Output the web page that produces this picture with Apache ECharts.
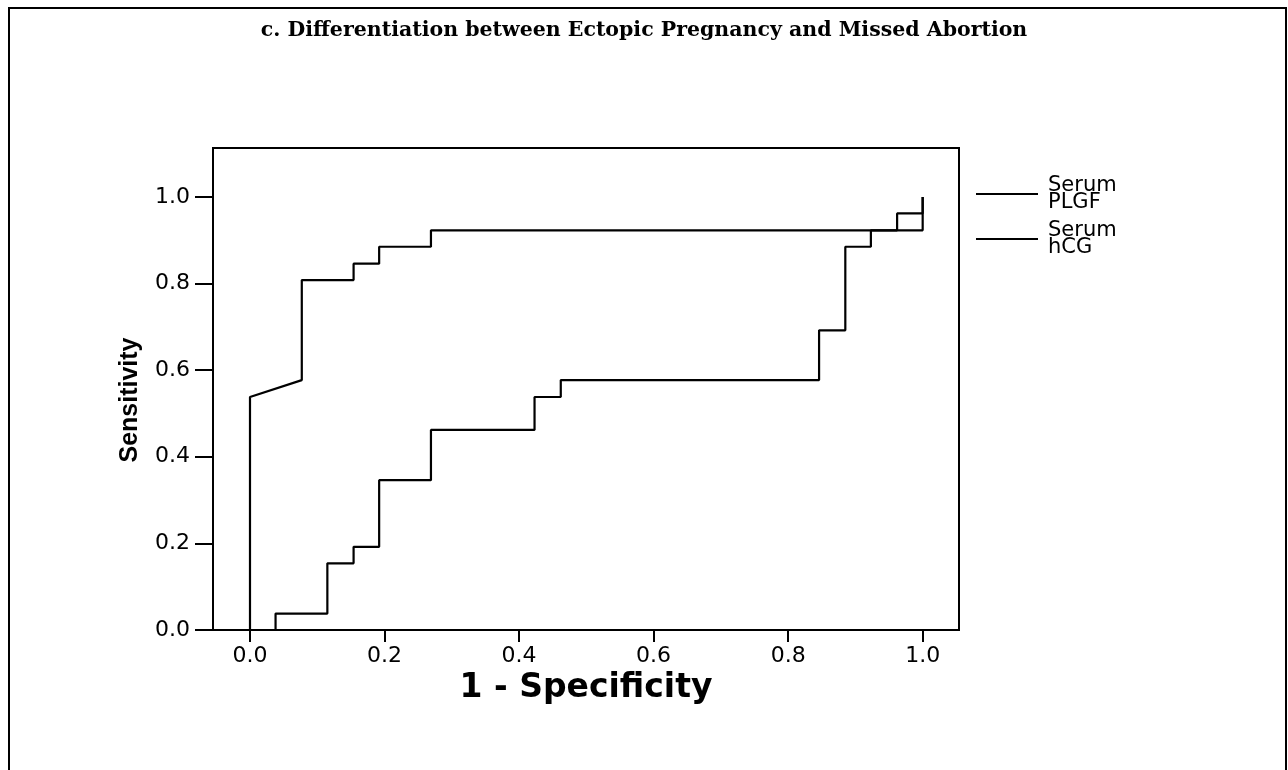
<!DOCTYPE html>
<html>
<head>
<meta charset="utf-8">
<script src="https://cdn.jsdelivr.net/npm/echarts@6/dist/echarts.min.js"></script>
<style>
html,body{margin:0;padding:0;background:#fff;}
#chart{width:1288px;height:770px;}
</style>
</head>
<body>
<div id="chart"></div>
<script>
const titleText = 'c. Differentiation between Ectopic Pregnancy and Missed Abortion';
const seriesNames = ['Serum PLGF', 'Serum hCG'];
const tickValues = [0, 0.2, 0.4, 0.6, 0.8, 1.0];

const plgfX = [0, 0, 0.077, 0.077, 0.154, 0.154, 0.192, 0.192, 0.269, 0.269, 0.962, 0.962, 1, 1];
const plgfY = [0, 0.538, 0.577, 0.808, 0.808, 0.846, 0.846, 0.885, 0.885, 0.923, 0.923, 0.962, 0.962, 1];

const hcgX = [0, 0.038, 0.038, 0.115, 0.115, 0.154, 0.154, 0.192, 0.192, 0.269, 0.269, 0.423, 0.423, 0.462, 0.462, 0.846, 0.846, 0.885, 0.885, 0.923, 0.923, 1, 1];
const hcgY = [0, 0, 0.038, 0.038, 0.154, 0.154, 0.192, 0.192, 0.346, 0.346, 0.462, 0.462, 0.538, 0.538, 0.577, 0.577, 0.692, 0.692, 0.885, 0.885, 0.923, 0.923, 1];

const toPairs = (xs, ys) => xs.map((x, i) => [x, ys[i]]);

const chart = echarts.init(document.getElementById('chart'));
const lineSeries = (name, xs, ys) => ({
  name: name,
  type: 'line',
  data: toPairs(xs, ys),
  showSymbol: false,
  symbol: 'none',
  lineStyle: {color: '#000', width: 2.2},
  itemStyle: {color: '#000'},
  animation: false
});

chart.setOption({
  backgroundColor: '#fff',
  animation: false,
  graphic: [{
    type: 'rect',
    shape: {x: 9, y: 8, width: 1277, height: 820},
    style: {fill: 'none', stroke: '#000', lineWidth: 2},
    silent: true
  }],
  title: {
    text: titleText,
    left: 'center',
    top: 15,
    textStyle: {fontFamily: 'DejaVu Serif', fontWeight: 'bold', fontSize: 20.5, color: '#000'}
  },
  legend: {
    orient: 'vertical',
    left: 971,
    top: 170,
    icon: 'rect',
    itemWidth: 62,
    itemHeight: 2,
    itemGap: 7,
    formatter: n => n.replace(' ', '\n'),
    textStyle: {fontFamily: 'DejaVu Sans', fontSize: 21, lineHeight: 17, color: '#000', padding: [0, 0, 0, 5]},
    data: seriesNames
  },
  grid: {
    left: 213, right: 329, top: 148, bottom: 140,
    show: true, borderColor: '#000', borderWidth: 2, backgroundColor: 'transparent'
  },
  xAxis: {
    type: 'value',
    min: -0.055,
    max: 1.054,
    name: '1 - Specificity',
    nameLocation: 'middle',
    nameGap: 35,
    nameTextStyle: {fontFamily: 'DejaVu Sans', fontWeight: 'bold', fontSize: 33, color: '#000'},
    axisLine: {show: true, onZero: false, lineStyle: {color: '#000', width: 2}},
    axisTick: {show: true, length: 12, lineStyle: {color: '#000', width: 2}, customValues: tickValues},
    axisLabel: {show: true, margin: 15, fontFamily: 'DejaVu Sans', fontSize: 22, color: '#000',
      customValues: tickValues, formatter: v => Number(v).toFixed(1)},
    splitLine: {show: false}
  },
  yAxis: {
    type: 'value',
    min: 0,
    max: 1.113,
    name: 'Sensitivity',
    nameLocation: 'middle',
    nameGap: 70,
    nameRotate: 90,
    nameTextStyle: {fontFamily: 'Liberation Sans', fontWeight: 'bold', fontSize: 25, color: '#000', padding: [0, 22, 0, 0]},
    axisLine: {show: true, onZero: false, lineStyle: {color: '#000', width: 2}},
    axisTick: {show: true, length: 18, lineStyle: {color: '#000', width: 2}, customValues: tickValues},
    axisLabel: {show: true, margin: 23, fontFamily: 'DejaVu Sans', fontSize: 22, color: '#000',
      customValues: tickValues, formatter: v => Number(v).toFixed(1)},
    splitLine: {show: false}
  },
  series: [
    lineSeries(seriesNames[0], plgfX, plgfY),
    lineSeries(seriesNames[1], hcgX, hcgY)
  ]
});
</script>
</body>
</html>
